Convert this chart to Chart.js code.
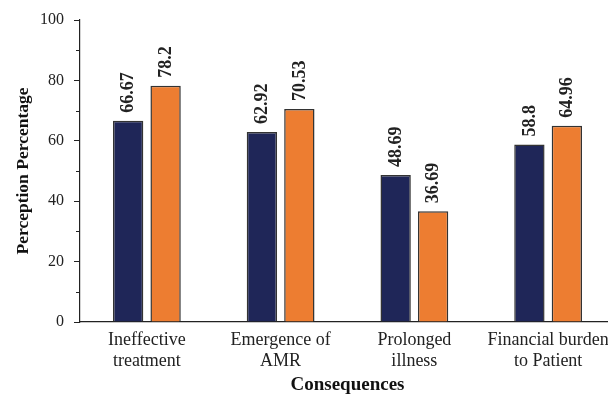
<!DOCTYPE html>
<html>
<head>
<meta charset="utf-8">
<script src="https://cdn.jsdelivr.net/npm/chart.js@4.4.1/dist/chart.umd.min.js"></script>
<style>
  html, body { margin: 0; padding: 0; background: #fff; overflow: hidden; }
  canvas { display: block; }
</style>
</head>
<body>
<canvas id="chart" width="620" height="396"></canvas>
<script>
// Consequences of antibiotic misuse, perception percentages for two groups
const categories = [
  ['Ineffective', 'treatment'],
  ['Emergence of', 'AMR'],
  ['Prolonged', 'illness'],
  ['Financial burden', 'to Patient']
];
const seriesA = [66.67, 62.92, 48.69, 58.8];
const seriesB = [78.2, 70.53, 36.69, 64.96];
const yTicks = [0, 20, 40, 60, 80, 100];

const SERIF = "'Liberation Serif', 'Times New Roman', serif";

// Writes each bar's value vertically just above the bar
const valueLabels = {
  id: 'valueLabels',
  afterDatasetsDraw(chart) {
    const ctx = chart.ctx;
    ctx.save();
    ctx.font = "bold 18px " + SERIF;
    ctx.fillStyle = '#222';
    ctx.textAlign = 'left';
    ctx.textBaseline = 'middle';
    chart.data.datasets.forEach((ds, i) => {
      chart.getDatasetMeta(i).data.forEach((bar, j) => {
        ctx.save();
        ctx.translate(bar.x + 0.5, bar.y - 8);
        ctx.rotate(-Math.PI / 2);
        ctx.fillText(String(ds.data[j]), 0, 0);
        ctx.restore();
      });
    });
    ctx.restore();
  }
};

// Short minor tick marks between the labelled y ticks
const minorTicks = {
  id: 'minorTicks',
  afterDraw(chart) {
    const y = chart.scales.y;
    const ctx = chart.ctx;
    ctx.save();
    ctx.strokeStyle = '#222';
    ctx.lineWidth = 1;
    y.ticks.forEach((t) => {
      if (yTicks.includes(t.value)) return;
      const py = Math.round(y.getPixelForValue(t.value)) + 0.5;
      ctx.beginPath();
      ctx.moveTo(y.right - 4, py);
      ctx.lineTo(y.right, py);
      ctx.stroke();
    });
    ctx.restore();
  }
};

new Chart(document.getElementById('chart'), {
  type: 'bar',
  data: {
    labels: categories,
    datasets: [
      {
        data: seriesA,
        backgroundColor: '#1f2658',
        borderColor: '#333333',
        borderWidth: 1.5,
        categoryPercentage: 0.56,
        barPercentage: 0.81
      },
      {
        data: seriesB,
        backgroundColor: '#ed7d31',
        borderColor: '#333333',
        borderWidth: 1.5,
        categoryPercentage: 0.56,
        barPercentage: 0.81
      }
    ]
  },
  options: {
    responsive: false,
    devicePixelRatio: 1,
    animation: false,
    layout: { padding: { left: 0, top: 20, right: 5, bottom: 0 } },
    plugins: {
      legend: { display: false },
      tooltip: { enabled: false }
    },
    scales: {
      x: {
        grid: { display: false },
        border: { display: true, color: '#222', width: 1.2 },
        ticks: {
          color: '#222',
          font: { family: SERIF, size: 18, lineHeight: 1.17 },
          maxRotation: 0,
          autoSkip: false,
          padding: 0
        },
        title: {
          display: true,
          text: 'Consequences',
          color: '#111',
          font: { family: SERIF, size: 19, weight: 'bold' },
          padding: { top: 0, bottom: 0 }
        },
        afterFit(scale) { scale.height = 74; }
      },
      y: {
        min: 0,
        max: 100,
        grid: {
          drawOnChartArea: false,
          drawTicks: true,
          tickLength: 6,
          color: (c) => (yTicks.includes(c.tick && c.tick.value) ? '#222' : 'rgba(0,0,0,0)'),
          lineWidth: 1
        },
        border: { display: true, color: '#222', width: 1.2 },
        ticks: {
          stepSize: 10,
          color: '#222',
          font: { family: SERIF, size: 16 },
          padding: 10,
          callback: (v) => (yTicks.includes(v) ? String(v) : '')
        },
        title: {
          display: true,
          text: 'Perception Percentage',
          color: '#111',
          font: { family: SERIF, size: 17.5, weight: 'bold' },
          padding: { top: 13, bottom: 0 }
        },
        afterFit(scale) { scale.width = 80; }
      }
    }
  },
  plugins: [valueLabels, minorTicks]
});
</script>
</body>
</html>
